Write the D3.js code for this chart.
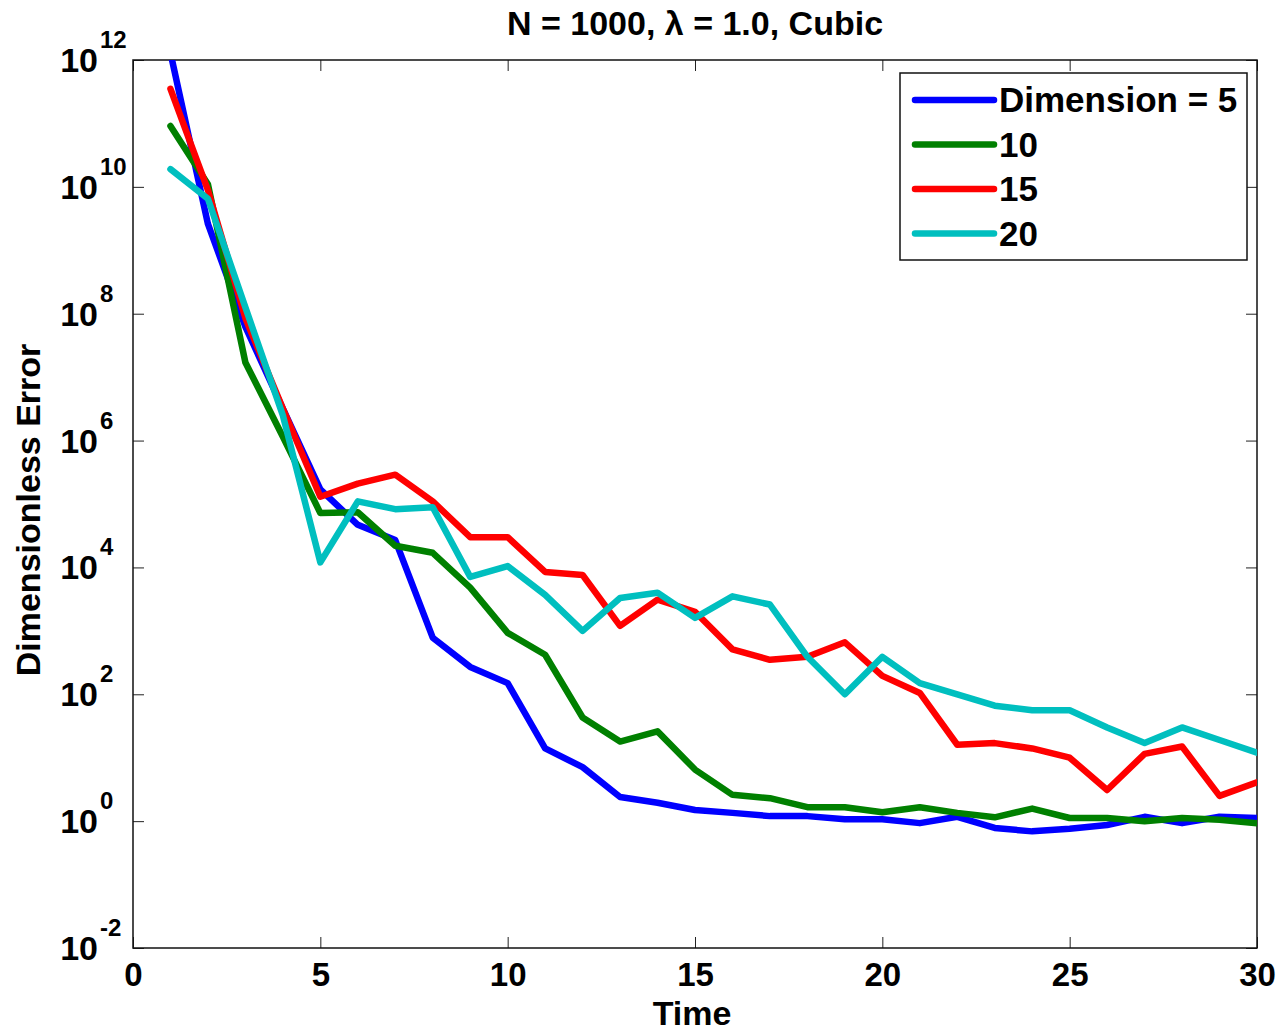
<!DOCTYPE html>
<html>
<head>
<meta charset="utf-8">
<script src="https://cdn.jsdelivr.net/npm/d3@7"></script>
<style>
  body { margin: 0; background: #fff; }
  svg { display: block; font-family: "Liberation Sans", Arial, Helvetica, sans-serif; font-weight: bold; }
</style>
</head>
<body>
<div id="chart"></div>
<script>
// time steps 1..30
const times = d3.range(1, 31);

const dim5 = [1.3e12, 2.6e9, 6.2e7, 3.2e6, 1.7e5, 4.7e4, 2.7e4, 780, 270, 150,
  14, 7.1, 2.4, 1.95, 1.5, 1.35, 1.2, 1.2, 1.07, 1.07,
  0.93, 1.17, 0.78, 0.69, 0.76, 0.87, 1.17, 0.93, 1.17, 1.12];
const dim10 = [9.1e10, 1.1e10, 1.7e7, 1.15e6, 7.2e4, 7.4e4, 2.2e4, 1.7e4, 4.8e3, 930,
  420, 43, 18, 26, 6.5, 2.6, 2.3, 1.66, 1.66, 1.38,
  1.66, 1.35, 1.15, 1.58, 1.12, 1.12, 1.0, 1.12, 1.05, 0.93];
const dim15 = [3.5e11, 8.9e9, 8.5e7, 3.2e6, 1.3e5, 2.1e5, 2.9e5, 1.1e5, 3.0e4, 3.0e4,
  8.5e3, 7.6e3, 1.2e3, 3.1e3, 2.0e3, 510, 350, 390, 660, 195,
  105, 16, 17, 14, 10, 3.1, 11.5, 15, 2.5, 4.1];
const dim20 = [1.9e10, 6.5e9, 1.26e8, 2.5e6, 1.2e4, 1.1e5, 8.3e4, 8.9e4, 7.1e3, 1.05e4,
  3.7e3, 1.0e3, 3.3e3, 4.0e3, 1.6e3, 3.5e3, 2.6e3, 390, 100, 390,
  150, 100, 66, 56, 56, 30, 17, 30, 19, 12];

const seriesNames = ['Dimension = 5', '10', '15', '20'];
const seriesColors = ['#0000ff', '#008000', '#ff0000', '#00bfbf'];
const seriesValues = [dim5, dim10, dim15, dim20];

const xTicks = [0, 5, 10, 15, 20, 25, 30];
const yExponents = [-2, 0, 2, 4, 6, 8, 10, 12];

const W = 1283, H = 1032;
const margin = { top: 60, right: 26, bottom: 84, left: 133 };
const width = W - margin.left - margin.right;
const height = H - margin.top - margin.bottom;

const svg = d3.select('#chart').append('svg')
  .attr('width', W)
  .attr('height', H);

const g = svg.append('g')
  .attr('transform', `translate(${margin.left},${margin.top})`);

const x = d3.scaleLinear().domain([0, 30]).range([0, width]);
const y = d3.scaleLog().domain([1e-2, 1e12]).range([height, 0]);

g.append('clipPath').attr('id', 'plot-clip')
  .append('rect').attr('width', width).attr('height', height);

// axes, ticks pointing inward like MATLAB
const xb = g.append('g')
  .attr('transform', `translate(0,${height})`)
  .call(d3.axisBottom(x).tickValues(xTicks).tickSize(-11).tickPadding(15).tickFormat(d3.format('d')));
xb.selectAll('text').style('font-size', '33px').style('fill', '#000');

g.append('g')
  .call(d3.axisTop(x).tickValues(xTicks).tickSize(-11).tickFormat(''));

const yTickVals = yExponents.map(e => Math.pow(10, e));
g.append('g')
  .call(d3.axisLeft(y).tickValues(yTickVals).tickSize(-11).tickFormat(''));
g.append('g')
  .attr('transform', `translate(${width},0)`)
  .call(d3.axisRight(y).tickValues(yTickVals).tickSize(-11).tickFormat(''));

g.selectAll('.domain').remove();
g.selectAll('.tick line').attr('stroke', '#222').attr('stroke-width', 1);

// y tick labels as 10^n
const yLab = g.append('g');
yExponents.forEach(e => {
  const yy = y(Math.pow(10, e));
  yLab.append('text')
    .attr('x', -35).attr('y', yy + 12)
    .attr('text-anchor', 'end')
    .style('font-size', '34px')
    .text('10');
  yLab.append('text')
    .attr('x', -33).attr('y', yy - 12)
    .attr('text-anchor', 'start')
    .style('font-size', '24px')
    .text(e);
});

// frame
g.append('rect')
  .attr('width', width).attr('height', height)
  .attr('fill', 'none').attr('stroke', '#111').attr('stroke-width', 1.5);

// lines
const line = d3.line()
  .x((d, i) => x(times[i]))
  .y(d => y(d));

const lines = g.append('g').attr('clip-path', 'url(#plot-clip)');
seriesValues.forEach((vals, k) => {
  lines.append('path')
    .datum(vals)
    .attr('d', line)
    .attr('fill', 'none')
    .attr('stroke', seriesColors[k])
    .attr('stroke-width', 6.5)
    .attr('stroke-linejoin', 'round')
    .attr('stroke-linecap', 'round');
});

// legend
const lg = svg.append('g').attr('transform', 'translate(900,73)');
lg.append('rect')
  .attr('width', 347).attr('height', 187)
  .attr('fill', '#fff').attr('stroke', '#111').attr('stroke-width', 1.5);
seriesNames.forEach((name, k) => {
  const ry = 27 + k * 44.5;
  lg.append('line')
    .attr('x1', 15).attr('x2', 94)
    .attr('y1', ry).attr('y2', ry)
    .attr('stroke', seriesColors[k])
    .attr('stroke-width', 6.5)
    .attr('stroke-linecap', 'round');
  lg.append('text')
    .attr('x', 99).attr('y', ry + 12)
    .style('font-size', '35px')
    .text(name);
});

// title and axis labels
svg.append('text')
  .attr('x', margin.left + width / 2).attr('y', 35)
  .attr('text-anchor', 'middle')
  .style('font-size', '34px')
  .text('N = 1000, λ = 1.0, Cubic');

svg.append('text')
  .attr('x', margin.left + width / 2 - 3).attr('y', 1025)
  .attr('text-anchor', 'middle')
  .style('font-size', '34px')
  .text('Time');

svg.append('text')
  .attr('transform', `translate(40,${margin.top + height / 2 + 6}) rotate(-90)`)
  .attr('text-anchor', 'middle')
  .style('font-size', '34px')
  .text('Dimensionless Error');
</script>
</body>
</html>
